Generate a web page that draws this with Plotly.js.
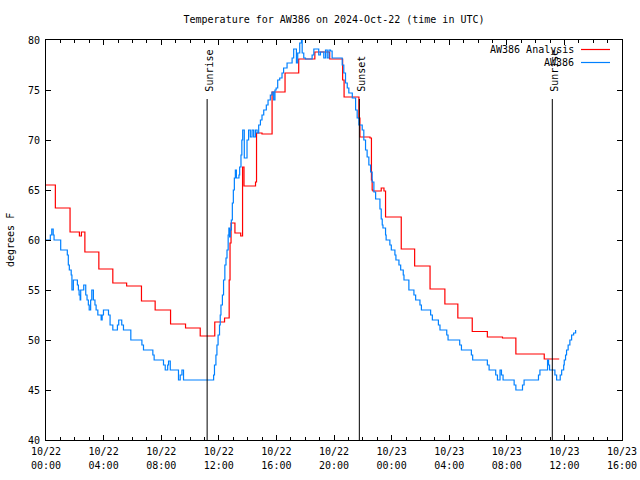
<!DOCTYPE html>
<html>
<head>
<meta charset="utf-8">
<script src="https://cdn.plot.ly/plotly-3.0.1.min.js"></script>
<style>html,body{margin:0;padding:0;background:#fff;}#chart{width:640px;height:480px;}</style>
</head>
<body>
<div id="chart"></div>
<script>
// hours since 2024-10-22 00:00 UTC
var analysisHours = [0,0.65,1.67,2.32,2.46,2.7,3.67,4.64,5.6,6.63,7.58,8.65,9.69,10.71,11.72,12.4,12.72,12.78,12.85,13.12,13.52,13.65,13.75,14.55,14.62,15.0,15.7,16.6,17.55,18.67,19.7,20.6,20.7,21.73,21.8,22.5,22.6,22.65,22.7,23.28,23.47,23.58,24.67,25.6,26.67,27.7,28.6,29.6,30.65,31.7,32.63,34.6,35.64];
var analysisTemp  = [65.5,63.2,60.8,60.4,60.8,58.8,57.1,55.7,55.4,53.9,53.0,51.6,51.2,50.4,51.8,52.2,56.0,59.7,61.7,60.7,60.4,67.3,65.4,65.8,70.7,70.6,74.8,76.7,78.1,78.8,78.1,76.0,74.3,72.2,70.3,70.2,66.0,65.0,64.9,65.2,64.9,62.3,59.1,57.4,55.1,53.6,52.2,50.85,50.3,50.2,48.6,48.1,48.1];

var obsHours = [0,0.3,0.4,0.5,0.56,1.02,1.48,1.55,1.62,1.75,1.8,1.9,2.18,2.25,2.3,2.37,2.41,2.62,2.76,2.85,2.94,3.0,3.1,3.18,3.29,3.4,3.48,3.6,3.83,3.9,3.99,4.34,4.45,4.64,4.96,5.05,5.26,5.38,5.89,6.66,6.77,7.42,7.51,8.16,8.28,8.45,8.51,8.63,9.2,9.32,9.44,9.55,11.64,11.7,11.8,11.87,11.95,12.05,12.1,12.15,12.25,12.33,12.42,12.5,12.57,12.65,12.7,12.75,12.8,12.87,12.94,13.01,13.08,13.15,13.22,13.4,13.45,13.54,13.6,13.66,13.77,13.96,14.07,14.19,14.31,14.42,14.54,14.66,14.77,14.89,15.0,15.12,15.3,15.42,15.58,15.7,15.81,15.9,15.98,16.09,16.23,16.39,16.5,16.74,17.09,17.2,17.39,17.48,17.62,17.74,17.79,17.9,18.02,18.48,18.6,18.94,19.06,19.29,19.41,19.53,19.65,19.76,19.87,20.57,20.68,20.8,20.92,21.03,21.27,21.5,21.61,21.73,21.96,22.07,22.19,22.3,22.42,22.54,22.65,22.77,22.89,23.19,23.28,23.35,23.4,23.58,23.62,23.88,23.98,24.23,24.3,24.51,24.63,24.81,24.86,25.2,25.55,25.67,25.97,26.07,26.71,26.83,27.25,27.36,27.83,27.92,28.73,28.85,29.54,29.63,30.65,30.77,31.23,31.35,31.53,31.63,31.74,32.51,32.63,33.09,33.2,34.2,34.3,34.83,34.9,34.97,35.34,35.46,35.71,35.81,35.95,35.99,36.08,36.15,36.26,36.38,36.5,36.64,36.78];
var obsTemp  = [60.0,60.5,61.1,60.5,60.0,59.0,58.5,57.5,57.0,56.5,55.0,56.0,55.5,55.0,54.5,54.0,55.0,55.5,54.5,54.0,53.5,53.0,54.0,55.0,54.0,53.5,53.0,52.5,52.0,52.5,53.0,52.5,51.5,51.0,51.5,52.0,51.5,51.0,50.0,49.5,49.0,48.5,48.0,47.5,47.0,47.5,47.9,47.0,46.0,46.5,47.0,46.0,46.5,47.5,48.5,49.5,50.5,51.5,52.5,53.5,54.5,56.0,57.5,58.2,59.0,60.5,61.2,60.3,61.0,62.0,63.7,65.0,66.2,67.0,66.2,66.5,67.3,68.5,70.0,71.0,68.2,70.0,71.0,70.3,71.0,70.3,71.0,70.7,71.5,72.0,72.5,73.0,73.5,74.0,74.5,74.8,74.0,75.0,75.2,76.0,76.2,76.7,77.2,77.7,78.2,79.1,77.7,78.7,79.7,80.5,78.7,78.2,78.1,78.5,79.1,78.5,78.8,78.2,79.0,78.2,79.0,78.9,78.2,77.5,76.7,75.7,75.2,74.7,74.2,73.0,72.2,71.5,71.0,70.0,69.0,68.3,67.5,66.8,65.8,64.8,64.1,63.1,62.1,61.5,61.2,60.5,60.0,59.5,59.0,58.5,58.0,57.5,57.0,56.5,56.0,55.0,54.5,54.0,53.5,53.0,52.5,52.0,51.5,51.0,50.5,50.0,49.5,49.0,48.5,48.0,47.5,47.0,46.5,46.0,47.0,46.5,46.0,45.5,45.0,45.5,46.0,46.5,47.0,48.0,47.5,47.0,46.5,46.0,46.5,47.0,47.5,48.0,48.5,49.0,49.5,50.0,50.5,50.7,51.0];

var tickHours      = [0,4,8,12,16,20,24,28,32,36,40];
var tickDayLabels  = ["10/22","10/22","10/22","10/22","10/22","10/22","10/23","10/23","10/23","10/23","10/23"];
var tickTimeLabels = ["00:00","04:00","08:00","12:00","16:00","20:00","00:00","04:00","08:00","12:00","16:00"];

var eventHours  = [11.19, 21.76, 35.16];
var eventLabels = ["Sunrise", "Sunset", "Sunrise"];

var seriesNames  = ["AW386 Analysis", "AW386"];
var seriesColors = ["#ff0000", "#0080ff"];

var FONT = "DejaVu Sans Mono, Liberation Mono, monospace";

var traces = [
  {x: analysisHours, y: analysisTemp, type: "scatter", mode: "lines", line: {shape: "hv", color: seriesColors[0], width: 1.2}, name: seriesNames[0]},
  {x: obsHours, y: obsTemp, type: "scatter", mode: "lines", line: {shape: "hv", color: seriesColors[1], width: 1.2}, name: seriesNames[1]},
  // invisible helper so the second (time-of-day) label row is drawn
  {x: obsHours, y: obsTemp, xaxis: "x2", type: "scatter", mode: "lines", line: {width: 0}, opacity: 0, hoverinfo: "skip", showlegend: false}
];

var shapes = [];
var annotations = [];
eventHours.forEach(function (h, i) {
  shapes.push({type: "line", xref: "x", yref: "y", x0: h, x1: h, y0: 40, y1: 74.1, line: {color: "#000", width: 1}});
  annotations.push({xref: "x", yref: "y", x: h, y: 74.75, text: eventLabels[i], showarrow: false, textangle: -90, xanchor: "center", yanchor: "bottom", xshift: 2, borderpad: 0, font: {family: FONT, size: 10, color: "#000"}});
});

// legend (gnuplot style: text then line sample)
var legendY = [0.97625, 0.94375];
seriesNames.forEach(function (n, i) {
  annotations.push({xref: "paper", yref: "paper", x: 0.9184, y: legendY[i], text: n, showarrow: false, xanchor: "right", yanchor: "middle", borderpad: 0, font: {family: FONT, size: 10, color: "#000"}});
  shapes.push({type: "line", xref: "paper", yref: "paper", x0: 0.9288, x1: 0.9792, y0: legendY[i], y1: legendY[i], line: {color: seriesColors[i], width: 1.2}});
});

annotations.push({xref: "paper", yref: "paper", x: -0.0625, y: 0.5, text: "degrees F", showarrow: false, textangle: -90, xanchor: "center", yanchor: "middle", font: {family: FONT, size: 10, color: "#000"}});

var layout = {
  width: 640, height: 480,
  margin: {l: 46, r: 18, t: 40, b: 40, pad: 0},
  paper_bgcolor: "#fff", plot_bgcolor: "#fff",
  font: {family: FONT, size: 10, color: "#000"},
  showlegend: false,
  title: {text: "Temperature for AW386 on 2024-Oct-22 (time in UTC)", x: 0.5, xref: "paper", y: 1 - 19/480, yref: "container", yanchor: "middle", font: {family: FONT, size: 10, color: "#000"}},
  xaxis: {
    range: [0, 40], tickvals: tickHours, ticktext: tickDayLabels, tickmode: "array",
    showgrid: false, zeroline: false, showline: true, linecolor: "#000", linewidth: 1, mirror: "ticks",
    ticks: "inside", ticklen: 5, tickcolor: "#000", tickwidth: 1, ticklabelstandoff: 2,
    minor: {dtick: 1, tick0: 0, ticks: "inside", ticklen: 3, tickcolor: "#000", tickwidth: 1, showgrid: false},
    tickfont: {family: FONT, size: 10, color: "#000"}, fixedrange: true
  },
  xaxis2: {
    range: [0, 40], tickvals: tickHours, ticktext: tickTimeLabels, tickmode: "array",
    overlaying: "x", anchor: "y", side: "bottom",
    showgrid: false, zeroline: false, showline: false, ticks: "", ticklabelstandoff: 18,
    tickfont: {family: FONT, size: 10, color: "#000"}, fixedrange: true
  },
  yaxis: {
    range: [40, 80], tick0: 40, dtick: 5,
    showgrid: false, zeroline: false, showline: true, linecolor: "#000", linewidth: 1, mirror: "ticks",
    ticks: "inside", ticklen: 5, tickcolor: "#000", tickwidth: 1, ticklabelstandoff: 3,
    tickfont: {family: FONT, size: 10, color: "#000"}, fixedrange: true
  },
  shapes: shapes,
  annotations: annotations
};

Plotly.newPlot("chart", traces, layout, {displayModeBar: false, staticPlot: true});
</script>
</body>
</html>
